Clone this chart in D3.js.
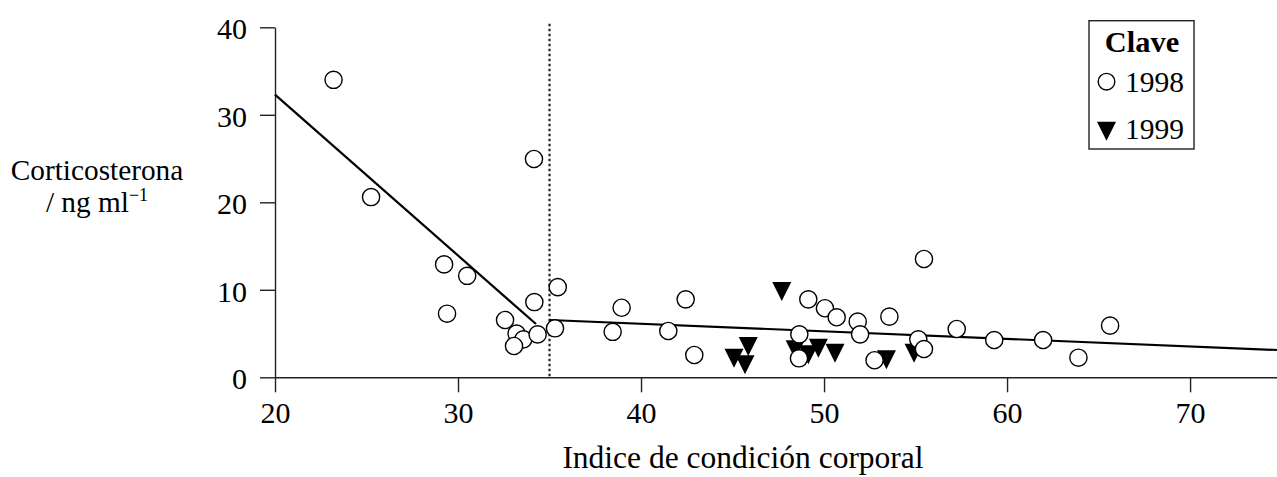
<!DOCTYPE html>
<html>
<head>
<meta charset="utf-8">
<script src="https://d3js.org/d3.v7.min.js"></script>
<style>
    body { margin: 0; background: white; }
    svg text { font-family: "Liberation Serif", "Times New Roman", serif; fill: black; }
</style>
</head>
<body>
<svg id="chart" width="1277" height="477"></svg>
<script>
    // 1998 (open circles)
    var x1998 = [23.2, 25.25, 34.15, 29.24, 30.5, 29.4, 35.45, 34.17, 32.57, 33.2, 33.57, 33.06,
        34.35, 35.3, 38.45, 38.94, 42.44, 41.49, 42.91, 49.14, 50.05, 50.69, 51.84, 51.97,
        48.65, 48.63, 52.76, 55.46, 53.57, 55.15, 55.46, 57.25, 59.3, 61.97, 63.9, 65.63]
    var y1998 = [34.0, 20.6, 24.95, 12.9, 11.6, 7.27, 10.3, 8.6, 6.55, 5.0, 4.34, 3.58,
        4.9, 5.6, 5.2, 7.95, 8.91, 5.29, 2.55, 8.91, 7.89, 6.86, 6.36, 4.91,
        4.91, 2.17, 1.95, 13.52, 6.93, 4.34, 3.23, 5.52, 4.26, 4.26, 2.24, 5.9]

    // 1999 (filled triangles)
    var x1999 = [47.69, 45.86, 45.08, 45.68, 48.42, 49.14, 49.69, 50.6, 53.41, 54.92]
    var y1999 = [10.17, 3.88, 2.55, 1.79, 3.5, 2.93, 3.69, 3.12, 2.36, 3.12]

    // fitted segments either side of the break
    var breakX = 35
    var fitLeftX = [20, 34.26], fitLeftY = [32.3, 6.09]
    var fitRightX = [35, 74.75], fitRightY = [6.55, 3.12]

    var xTicks = [20, 30, 40, 50, 60, 70]
    var yTicks = [0, 10, 20, 30, 40]

    var svg = d3.select("#chart")
    var x = d3.scaleLinear().domain([20, 74.75]).range([275, 1277])
    var y = d3.scaleLinear().domain([0, 40]).range([377.3, 27.3])

    // axes
    var xAxis = svg.append("g")
        .attr("transform", "translate(0," + y(0) + ")")
        .call(d3.axisBottom(x).tickValues(xTicks).tickSize(15).tickPadding(9.5).tickSizeOuter(0))
    var yAxis = svg.append("g")
        .attr("transform", "translate(" + x(20) + ",0)")
        .call(d3.axisLeft(y).tickValues(yTicks).tickSize(15).tickPadding(13).tickSizeOuter(0))
    svg.selectAll(".domain, .tick line").attr("stroke", "#222").attr("stroke-width", 1.4)
    svg.selectAll(".tick text").attr("font-size", 30).attr("font-family", "Liberation Serif")
    yAxis.selectAll(".tick text").attr("dy", "0.38em")

    // break line
    svg.append("line")
        .attr("x1", x(breakX)).attr("x2", x(breakX))
        .attr("y1", y(40.4)).attr("y2", y(0))
        .attr("stroke", "#222").attr("stroke-width", 2.2)
        .attr("stroke-dasharray", "2.4,2.6")

    // fitted lines
    var line = d3.line().x(d => x(d[0])).y(d => y(d[1]))
    svg.append("path").datum(d3.zip(fitLeftX, fitLeftY))
        .attr("d", line).attr("fill", "none").attr("stroke", "black").attr("stroke-width", 2.2)
    svg.append("path").datum(d3.zip(fitRightX, fitRightY))
        .attr("d", line).attr("fill", "none").attr("stroke", "black").attr("stroke-width", 2.2)

    var tri = "M-9.5,-6.3L9.5,-6.3L0,12.7Z"

    svg.append("g").selectAll("path")
        .data(d3.zip(x1999, y1999))
        .enter().append("path")
        .attr("d", tri)
        .attr("transform", d => "translate(" + x(d[0]) + "," + y(d[1]) + ")")
        .attr("fill", "black")

    svg.append("g").selectAll("circle")
        .data(d3.zip(x1998, y1998))
        .enter().append("circle")
        .attr("cx", d => x(d[0]))
        .attr("cy", d => y(d[1]))
        .attr("r", 8.6)
        .attr("fill", "white")
        .attr("stroke", "black")
        .attr("stroke-width", 1.4)

    // axis titles
    svg.append("text")
        .attr("x", 743).attr("y", 468)
        .attr("text-anchor", "middle").attr("font-size", 31.5)
        .text("Indice de condición corporal")

    var yt = svg.append("text").attr("text-anchor", "middle").attr("font-size", 29.3)
    yt.append("tspan").attr("x", 97).attr("y", 180).text("Corticosterona")
    var l2 = yt.append("tspan").attr("x", 97).attr("y", 212)
    l2.append("tspan").text("/ ng ml")
    l2.append("tspan").attr("font-size", 18).attr("dy", -11).text("−1")

    // legend
    var lg = svg.append("g")
    lg.append("rect")
        .attr("x", 1089).attr("y", 20.7).attr("width", 105).attr("height", 128.3)
        .attr("fill", "white").attr("stroke", "#222").attr("stroke-width", 1.4)
    lg.append("text").attr("x", 1142).attr("y", 52).attr("text-anchor", "middle")
        .attr("font-size", 30.4).attr("font-weight", "bold").text("Clave")
    lg.append("circle").attr("cx", 1106.5).attr("cy", 81.7).attr("r", 8.3)
        .attr("fill", "white").attr("stroke", "black").attr("stroke-width", 1.4)
    lg.append("text").attr("x", 1125).attr("y", 92).attr("font-size", 29.5).text("1998")
    lg.append("path").attr("d", tri).attr("transform", "translate(1106.5,128)").attr("fill", "black")
    lg.append("text").attr("x", 1125).attr("y", 138.5).attr("font-size", 29.5).text("1999")
</script>
</body>
</html>
